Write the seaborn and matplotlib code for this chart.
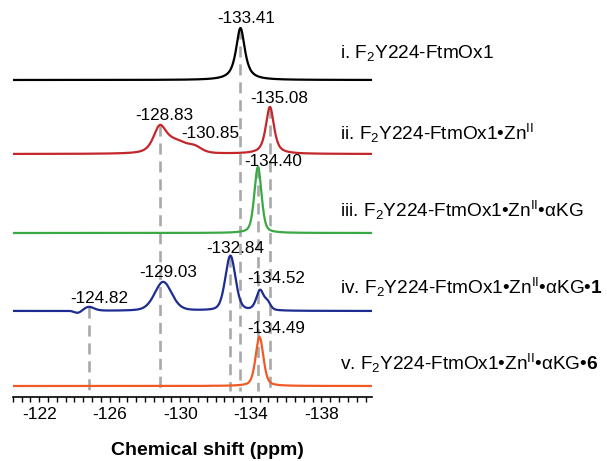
import numpy as np
import pandas as pd
import matplotlib
matplotlib.use("Agg")
import matplotlib.pyplot as plt
import matplotlib.transforms as mtransforms
from matplotlib.ticker import FixedLocator, MultipleLocator
import seaborn as sns

# ---------------- data ----------------
sample_labels = [
    r"i. F$_{\mathregular{2}}$Y224-FtmOx1",
    r"ii. F$_{\mathregular{2}}$Y224-FtmOx1•Zn$^{\mathregular{II}}$",
    r"iii. F$_{\mathregular{2}}$Y224-FtmOx1•Zn$^{\mathregular{II}}$•αKG",
    r"iv. F$_{\mathregular{2}}$Y224-FtmOx1•Zn$^{\mathregular{II}}$•αKG•$\mathbf{1}$",
    r"v. F$_{\mathregular{2}}$Y224-FtmOx1•Zn$^{\mathregular{II}}$•αKG•$\mathbf{6}$",
]
trace_colors = ["#000000", "#c3262b", "#3aa845", "#1c2c92", "#ef5a26"]

# peak model for each spectrum: position (ppm), height, FWHM (ppm), Lorentzian fraction
black_pos = [-133.41]
black_h = [52]
black_w = [0.6]
black_eta = [0.85]

red_pos = [-128.83, -129.7, -130.85, -135.08]
red_h = [23, 12, 4.5, 47]
red_w = [0.85, 1.7, 0.9, 0.55]
red_eta = [0.6, 0.3, 0.4, 0.7]

green_pos = [-134.40]
green_h = [66]
green_w = [0.48]
green_eta = [0.4]

blue_pos = [-124.82, -124.2, -129.03, -132.84, -134.52, -134.95]
blue_h = [4, -2.5, 29, 55, 20, 7]
blue_w = [0.7, 0.5, 1.15, 0.68, 0.5, 0.4]
blue_eta = [0.4, 0.0, 0.3, 0.3, 0.4, 0.3]

orange_pos = [-134.49]
orange_h = [49]
orange_w = [0.52]
orange_eta = [0.4]

# labelled peaks: value text, trace index
peak_values = ["-133.41", "-128.83", "-130.85", "-135.08", "-134.40",
               "-124.82", "-129.03", "-132.84", "-134.52", "-134.49"]
peak_trace = [0, 1, 1, 1, 2, 3, 3, 3, 3, 4]

# dashed guide lines: ppm and the trace where they start
guide_ppm = [-133.41, -128.83, -135.08, -134.40, -124.82, -132.84]
guide_trace = [0, 1, 1, 2, 3, 3]

major_ticks = [-122, -126, -130, -134, -138]

# ---------------- layout ----------------
baselines = [317, 243, 164, 86, 11]          # vertical stacking offsets
label_y = [344, 264, 187, 110, 34]           # right-hand sample labels
peak_label_xy = [(-133.72, 379), (-129.07, 282), (-131.68, 264), (-135.6, 299),
                 (-135.24, 236), (-125.39, 99), (-129.32, 125), (-133.1, 149),
                 (-135.42, 119), (-135.42, 69)]

sns.set_theme(style="white")
plt.rcParams["font.family"] = ["Liberation Sans", "DejaVu Sans"]
plt.rcParams["mathtext.fontset"] = "custom"
plt.rcParams["mathtext.rm"] = "Liberation Sans"
plt.rcParams["mathtext.it"] = "Liberation Sans:italic"
plt.rcParams["mathtext.bf"] = "Liberation Sans:bold"

fig = plt.figure(figsize=(6.07, 4.61), dpi=100)
W, H = 607, 461
ax_left, ax_right, ax_bottom, ax_top = 12.7, 371.7, 397, 5
ax = fig.add_axes([ax_left / W, 1 - ax_bottom / H, (ax_right - ax_left) / W,
                   (ax_bottom - ax_top) / H])

x = np.linspace(-120.5, -140.85, 3000)


def pv(xx, pos, h, w, eta):
    y = np.zeros_like(xx, dtype=float)
    for p, hh, ww, ee in zip(pos, h, w, eta):
        d = (xx - p) / (ww / 2)
        lor = 1.0 / (1.0 + d ** 2)
        gau = np.exp(-np.log(2) * d ** 2)
        y += hh * (ee * lor + (1 - ee) * gau)
    return y


models = [
    (black_pos, black_h, black_w, black_eta),
    (red_pos, red_h, red_w, red_eta),
    (green_pos, green_h, green_w, green_eta),
    (blue_pos, blue_h, blue_w, blue_eta),
    (orange_pos, orange_h, orange_w, orange_eta),
]

frames = []
for lab, base, m in zip(sample_labels, baselines, models):
    frames.append(pd.DataFrame({"ppm": x, "y": base + pv(x, *m), "sample": lab}))
df = pd.concat(frames, ignore_index=True)

# dashed guides (behind traces)
for p, ti in zip(guide_ppm, guide_trace):
    top = baselines[ti] + pv(np.array([p]), *models[ti])[0]
    ax.plot([p, p], [top, 6], color="#a9a9a9", lw=1.9, ls=(0, (4.2, 2.6)), zorder=1)

sns.lineplot(data=df, x="ppm", y="y", hue="sample", hue_order=sample_labels,
             palette=trace_colors, estimator=None, sort=False, legend=False,
             linewidth=1.6, ax=ax, zorder=3)

for txt, (px, py) in zip(peak_values, peak_label_xy):
    ax.text(px, py, txt, ha="center", va="center", fontsize=12.3, color="black", zorder=4)

trans = mtransforms.blended_transform_factory(ax.transAxes, ax.transData)
for lab, ly in zip(sample_labels, label_y):
    ax.text((340 - ax_left) / (ax_right - ax_left), ly, lab, transform=trans,
            ha="left", va="center", fontsize=13.7, color="black", clip_on=False)

ax.set_xlim(-120.5, -140.85)
ax.set_ylim(0, ax_bottom - ax_top)
ax.set_yticks([])
ax.set_ylabel("")
for s in ["left", "right", "top"]:
    ax.spines[s].set_visible(False)
ax.spines["bottom"].set_color("black")
ax.spines["bottom"].set_linewidth(1.2)
ax.xaxis.set_major_locator(FixedLocator(major_ticks))
ax.xaxis.set_minor_locator(MultipleLocator(0.5))
ax.set_xticklabels([str(t) for t in major_ticks])
ax.tick_params(axis="x", which="both", bottom=True, direction="out", length=3.5,
               width=1, color="black", labelsize=12.5, pad=4, labelcolor="black")
ax.set_xlabel("Chemical shift (ppm)", fontsize=14, fontweight="bold", color="black")
ax.xaxis.label.set_va("center")
ax.xaxis.set_label_coords((207.5 - ax_left) / (ax_right - ax_left),
                          -(450.6 - ax_bottom) / (ax_bottom - ax_top))

fig.savefig("out.png", dpi=100, facecolor="white")
